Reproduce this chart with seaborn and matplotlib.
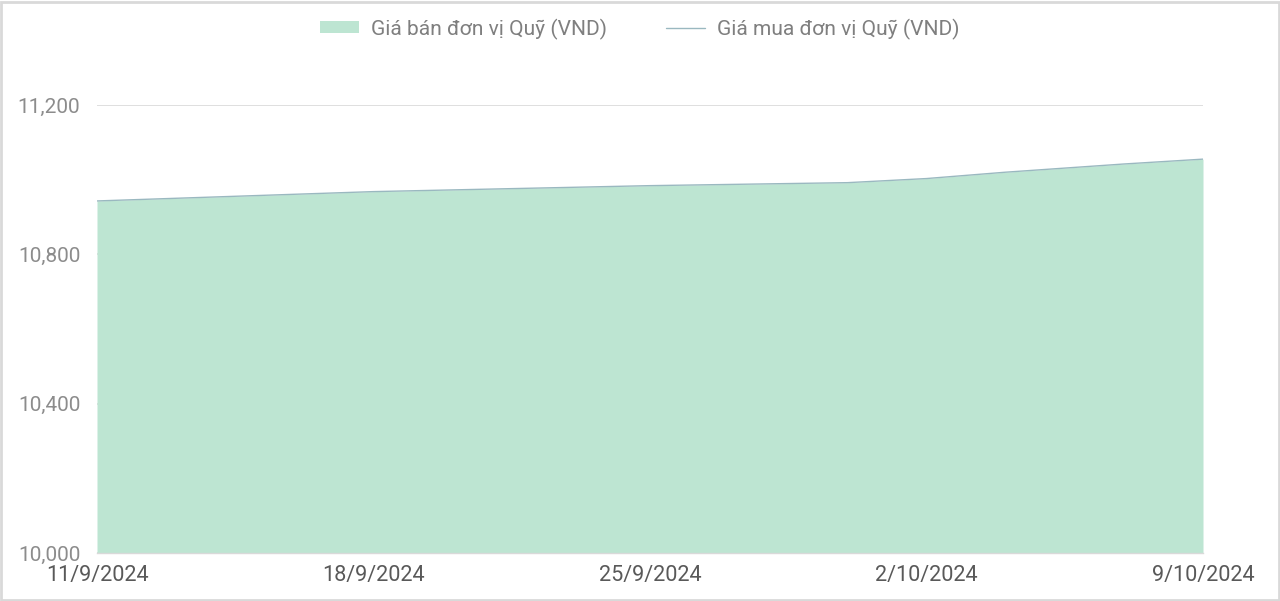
import pandas as pd
import seaborn as sns
import matplotlib.pyplot as plt
from matplotlib.patches import Rectangle, Patch
from matplotlib.lines import Line2D
from matplotlib import font_manager

# Values
dates = ["2024-09-11", "2024-09-18", "2024-09-25", "2024-09-30", "2024-10-02", "2024-10-04", "2024-10-07", "2024-10-09"]
sell_price = [10943, 10968, 10984, 10992, 11003, 11020, 11042, 11055]
buy_price = [10943, 10968, 10984, 10992, 11003, 11020, 11042, 11055]
tick_dates = ["2024-09-11", "2024-09-18", "2024-09-25", "2024-10-02", "2024-10-09"]
y_ticks = [10000, 10400, 10800, 11200]
sell_label = "Giá bán đơn vị Quỹ (VND)"
buy_label = "Giá mua đơn vị Quỹ (VND)"

df = pd.DataFrame({"date": pd.to_datetime(dates), "sell": sell_price, "buy": buy_price})

sns.set_style("white")
available = {f.name for f in font_manager.fontManager.ttflist}
family = ["Liberation Sans Narrow"] if "Liberation Sans Narrow" in available else ["Roboto"]
plt.rcParams["font.family"] = family + ["DejaVu Sans"]

fill_color = "#bde5d2"
line_color = "#9ab8c0"

fig = plt.figure(figsize=(12.8, 6.01), dpi=100)
ax = fig.add_axes([97 / 1280, 48 / 601, 1106 / 1280, 448 / 601])

# grid under the fill
ax.set_axisbelow(True)
ax.yaxis.grid(True, color="#d9d9d9", linewidth=1.2)
ax.xaxis.grid(False)

ax.fill_between(df["date"], 10000, df["sell"], color=fill_color, linewidth=0, zorder=2)
sns.lineplot(data=df, x="date", y="buy", color=line_color, linewidth=1.0, ax=ax, zorder=3)

ax.set_xlim(pd.Timestamp(dates[0]), pd.Timestamp(dates[-1]))
ax.set_ylim(10000, 11200)
ax.set_yticks(y_ticks)
ax.set_yticklabels([f"{v:,}" for v in y_ticks])
ticks = pd.to_datetime(tick_dates)
ax.set_xticks(ticks)
ax.set_xticklabels([f"{d.day}/{d.month}/{d.year}" for d in ticks])

ax.set_xlabel("")
ax.set_ylabel("")
for side in ["top", "right", "left"]:
    ax.spines[side].set_visible(False)
ax.spines["bottom"].set_color("#d9d9d9")
ax.spines["bottom"].set_linewidth(1.0)

ax.tick_params(axis="x", colors="#d9d9d9", labelcolor="#595959", labelsize=15.6, length=5, pad=4)
ax.tick_params(axis="y", colors="#8c8c8c", labelsize=15, length=0, pad=12)

handles = [
    Patch(facecolor=fill_color, edgecolor="none"),
    Line2D([0], [0], color=line_color, linewidth=1.0),
]
leg = fig.legend(handles, [sell_label, buy_label], loc="center", bbox_to_anchor=(0.5, 1 - 29 / 601),
                 ncol=2, frameon=False, fontsize=15.1, handlelength=1.85, handleheight=0.5,
                 columnspacing=2.8, handletextpad=0.6)
for t in leg.get_texts():
    t.set_color("#7f7f7f")

# light frame around the whole picture
fig.patches.append(Rectangle((0.001, 0.001), 0.998, 0.996, transform=fig.transFigure,
                             fill=False, edgecolor="#d9d9d9", linewidth=2))

fig.savefig("out.png", dpi=100)
